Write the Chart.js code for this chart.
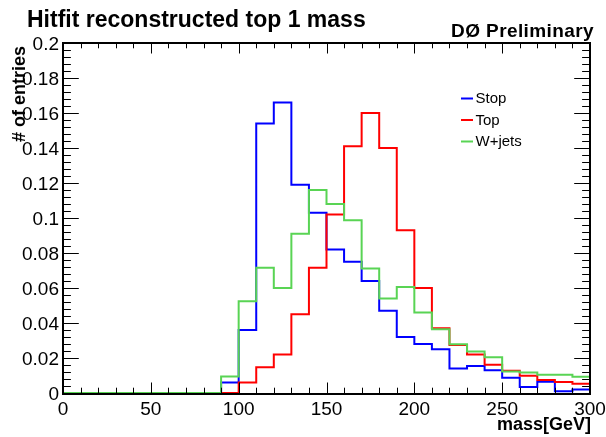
<!DOCTYPE html>
<html>
<head>
<meta charset="utf-8">
<script src="https://cdn.jsdelivr.net/npm/chart.js@4"></script>
<style>
  html, body { margin: 0; padding: 0; background: #fff; }
  canvas { display: block; }
</style>
</head>
<body>
<canvas id="c" width="606" height="437"></canvas>
<script>
// Bin lower edges (GeV), 10 GeV wide, 0-300
const binLow = [0, 10, 20, 30, 40, 50, 60, 70, 80, 90,
                100, 110, 120, 130, 140, 150, 160, 170, 180, 190,
                200, 210, 220, 230, 240, 250, 260, 270, 280, 290];
const binWidth = 10;

// Normalised entries per bin
const stopVals = [0, 0, 0, 0, 0, 0, 0, 0, 0, 0.006,
                  0.036, 0.154, 0.166, 0.119, 0.103, 0.082, 0.075, 0.064, 0.047, 0.032,
                  0.028, 0.025, 0.014, 0.0155, 0.013, 0.0087, 0.0035, 0.0065, 0.001, 0.002];
const topVals = [0, 0, 0, 0, 0, 0, 0, 0, 0, 0,
                 0.006, 0.0147, 0.022, 0.045, 0.0716, 0.102, 0.141, 0.16, 0.14, 0.093,
                 0.06, 0.037, 0.0275, 0.022, 0.0162, 0.0127, 0.0098, 0.0075, 0.0063, 0.0053];
const wjetsVals = [0, 0, 0, 0, 0, 0, 0, 0, 0, 0.0095,
                   0.0525, 0.0716, 0.06, 0.091, 0.116, 0.108, 0.0987, 0.0712, 0.054, 0.0606,
                   0.046, 0.0365, 0.0278, 0.0237, 0.0205, 0.0123, 0.0117, 0.0104, 0.0104, 0.0093];

const seriesNames = ['Stop', 'Top', 'W+jets'];
const seriesColors = ['#0000ff', '#ff0000', '#59d454'];

// Axis tick labels
const xTickVals = [0, 50, 100, 150, 200, 250, 300];
const yTickVals = [0, 0.02, 0.04, 0.06, 0.08, 0.1, 0.12, 0.14, 0.16, 0.18, 0.2];
const xMinorStep = 10;
const yMinorStep = 0.004;

const FONT = '"Liberation Sans", Arial, Helvetica, sans-serif';
Chart.defaults.font.family = FONT;
Chart.defaults.color = '#000';

// Step points: each bin's content runs from its lower edge to the next edge
function histPoints(vals) {
  const pts = binLow.map((x, i) => ({ x: x, y: vals[i] }));
  pts.push({ x: binLow[binLow.length - 1] + binWidth, y: vals[vals.length - 1] });
  return pts;
}

const allVals = [stopVals, topVals, wjetsVals];
const drawOrder = [2, 1, 0];

const datasets = seriesNames.map((name, i) => ({
  label: name,
  data: histPoints(allVals[i]),
  borderColor: seriesColors[i],
  backgroundColor: seriesColors[i],
  borderWidth: 2,
  pointRadius: 0,
  fill: false,
  stepped: 'before',
  order: drawOrder[i]
}));

function seg(ctx, x1, y1, x2, y2) {
  ctx.beginPath();
  ctx.moveTo(x1, y1);
  ctx.lineTo(x2, y2);
  ctx.stroke();
}

const frameAndText = {
  id: 'frameAndText',
  afterDatasetsDraw(chart) {
    const { ctx, chartArea: a, scales } = chart;
    const xs = scales.x, ys = scales.y;
    ctx.save();
    ctx.strokeStyle = '#000';
    ctx.lineWidth = 1;
    // x ticks, bottom and top, pointing inward
    const nx = Math.round((xs.max - xs.min) / xMinorStep);
    for (let i = 0; i <= nx; i++) {
      const v = xs.min + i * xMinorStep;
      const px = Math.round(xs.getPixelForValue(v)) + 0.5;
      const len = (i % 5 === 0) ? 10.5 : 5.3;
      seg(ctx, px, a.bottom, px, a.bottom - len);
      seg(ctx, px, a.top, px, a.top + len);
    }
    // y ticks, left and right, pointing inward
    const ny = Math.round((ys.max - ys.min) / yMinorStep);
    for (let i = 0; i <= ny; i++) {
      const v = ys.min + i * yMinorStep;
      const py = Math.round(ys.getPixelForValue(v)) + 0.5;
      const len = (i % 5 === 0) ? 15.8 : 7.9;
      seg(ctx, a.left, py, a.left + len, py);
      seg(ctx, a.right, py, a.right - len, py);
    }
    // frame
    ctx.lineWidth = 2;
    ctx.strokeRect(a.left, a.top, a.right - a.left, a.bottom - a.top + 1);
    ctx.restore();
  },
  afterDraw(chart) {
    const { ctx } = chart;
    ctx.save();
    ctx.fillStyle = '#000';

    // main title
    ctx.font = 'bold 23px ' + FONT;
    ctx.textAlign = 'left';
    ctx.textBaseline = 'alphabetic';
    ctx.fillText('Hitfit reconstructed top 1 mass', 27, 27);

    // experiment tag
    ctx.font = 'bold 19px ' + FONT;
    ctx.letterSpacing = '0.4px';
    ctx.textAlign = 'right';
    ctx.fillText('DØ Preliminary', 594, 37);

    // x axis title
    ctx.font = 'bold 18px ' + FONT;
    ctx.letterSpacing = '0px';
    ctx.fillText('mass[GeV]', 591, 430);

    // y axis title
    ctx.font = 'bold 18px ' + FONT;
    ctx.save();
    ctx.translate(25, 46);
    ctx.rotate(-Math.PI / 2);
    ctx.textAlign = 'right';
    ctx.fillText('# of entries', 0, 0);
    ctx.restore();

    // legend
    ctx.font = '15px ' + FONT;
    ctx.textAlign = 'left';
    ctx.textBaseline = 'middle';
    const legY = [98.5, 120, 141.5];
    seriesNames.forEach((name, i) => {
      ctx.strokeStyle = seriesColors[i];
      ctx.lineWidth = 2;
      seg(ctx, 461, legY[i], 473, legY[i]);
      ctx.fillText(name, 475.5, legY[i] + 0.5);
    });
    ctx.restore();
  }
};

new Chart(document.getElementById('c'), {
  type: 'line',
  data: { datasets: datasets },
  plugins: [frameAndText],
  options: {
    responsive: false,
    animation: false,
    devicePixelRatio: 1,
    layout: { padding: { left: 0, top: 43, right: 16, bottom: 0 } },
    plugins: {
      legend: { display: false },
      tooltip: { enabled: false },
      title: { display: false }
    },
    scales: {
      x: {
        type: 'linear',
        min: 0,
        max: 300,
        grid: { display: false, drawTicks: false },
        border: { display: false },
        afterBuildTicks(scale) { scale.ticks = xTickVals.map(v => ({ value: v })); },
        afterFit(scale) {
          scale.height = 44;
          scale.paddingLeft = 0;
          scale.paddingRight = 0;
        },
        ticks: {
          font: { size: 19 },
          color: '#000',
          padding: 5,
          maxRotation: 0,
          autoSkip: false,
          callback: v => String(v)
        }
      },
      y: {
        type: 'linear',
        min: 0,
        max: 0.2,
        grid: { display: false, drawTicks: false },
        border: { display: false },
        afterBuildTicks(scale) { scale.ticks = yTickVals.map(v => ({ value: v })); },
        afterFit(scale) {
          scale.width = 63;
          scale.paddingTop = 0;
          scale.paddingBottom = 0;
        },
        ticks: {
          font: { size: 19 },
          color: '#000',
          padding: 4,
          labelOffset: 2,
          autoSkip: false,
          callback: v => String(parseFloat(v.toFixed(3)))
        }
      }
    }
  }
});
</script>
</body>
</html>
